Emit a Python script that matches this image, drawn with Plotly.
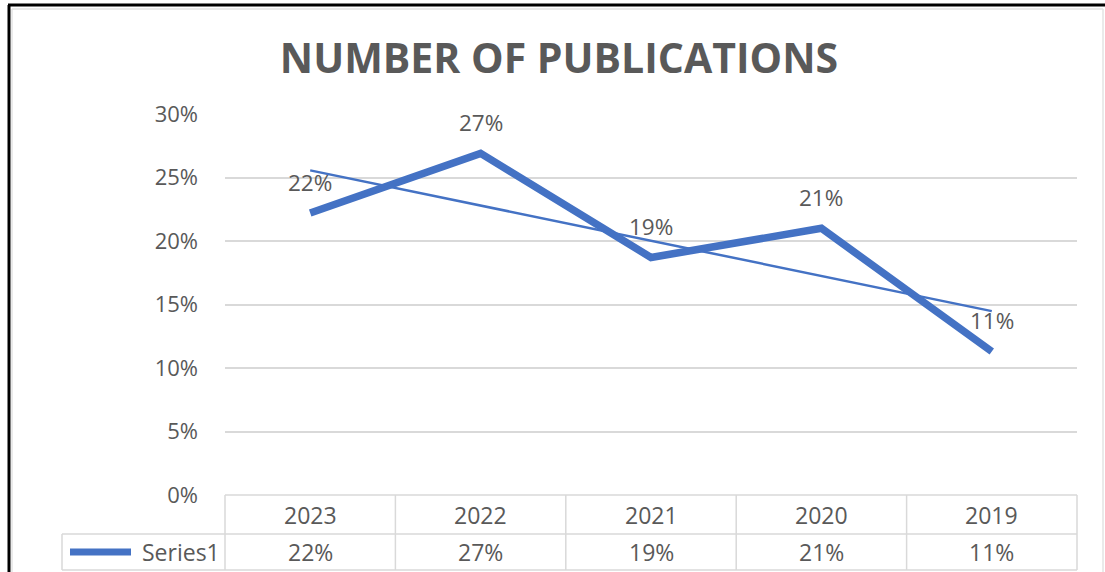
import numpy as np
import plotly.graph_objects as go

# ---- data ----
years = ["2023", "2022", "2021", "2020", "2019"]
values = [22.2, 26.9, 18.7, 21.0, 11.3]          # percent
value_labels = ["22%", "27%", "19%", "21%", "11%"]
series_name = "Series1"
y_ticks = [0, 5, 10, 15, 20, 25, 30]
y_tick_labels = ["0%", "5%", "10%", "15%", "20%", "25%", "30%"]

# ---- layout constants ----
W, H = 1105, 572
L, R, T, B = 225, 28, 114, 77
PW, PH = W - L - R, H - T - B
BLUE = "#4472C4"
GREY_TXT = "#595959"
GRID = "#d9d9d9"
FONT = "Open Sans"

def px2x(px):
    return (px - L) / PW

def py2y(py):
    return (H - B - py) / PH

idx = list(range(len(years)))
slope, intercept = np.polyfit(idx, values, 1)
trend = [slope * i + intercept for i in idx]

fig = go.Figure()
fig.add_trace(go.Scatter(
    x=idx, y=values, mode="lines",
    line=dict(color=BLUE, width=7.5, shape="linear"),
    name=series_name, showlegend=False, hoverinfo="skip"))
fig.add_trace(go.Scatter(
    x=[idx[0], idx[-1]], y=[trend[0], trend[-1]], mode="lines",
    line=dict(color=BLUE, width=2.5), showlegend=False, hoverinfo="skip"))

annotations = []
for i, v, lab in zip(idx, values, value_labels):
    annotations.append(dict(x=i, y=v, xref="x", yref="y", text=lab,
                            showarrow=False, yshift=31,
                            font=dict(family=FONT, size=22.5, color=GREY_TXT)))

# ---- data table ----
n = len(years)
row1_top, row1_bot, row2_bot = 495, 534, 570
key_left = 62
shapes = []
line_style = dict(color=GRID, width=1.5)
shapes.append(dict(type="line", xref="paper", yref="paper",
                   x0=0, x1=1, y0=py2y(row1_top), y1=py2y(row1_top), line=line_style))
for yy in (row1_bot, row2_bot):
    shapes.append(dict(type="line", xref="paper", yref="paper",
                       x0=px2x(key_left), x1=1, y0=py2y(yy), y1=py2y(yy), line=line_style))
for i in range(n + 1):
    xp = i / n
    shapes.append(dict(type="line", xref="paper", yref="paper",
                       x0=xp, x1=xp, y0=py2y(row1_top), y1=py2y(row2_bot), line=line_style))
shapes.append(dict(type="line", xref="paper", yref="paper",
                   x0=px2x(key_left), x1=px2x(key_left),
                   y0=py2y(row1_bot), y1=py2y(row2_bot), line=line_style))
key_y = py2y((row1_bot + row2_bot) / 2)
shapes.append(dict(type="line", xref="paper", yref="paper",
                   x0=px2x(70), x1=px2x(131), y0=key_y, y1=key_y,
                   line=dict(color=BLUE, width=7)))
annotations.append(dict(x=px2x(222), y=key_y, xref="paper", yref="paper",
                        xanchor="right", yanchor="middle", text=series_name,
                        showarrow=False, font=dict(family=FONT, size=23, color=GREY_TXT)))
for i, yr, lab in zip(idx, years, value_labels):
    annotations.append(dict(x=i, y=py2y((row1_top + row1_bot) / 2), xref="x", yref="paper",
                            yanchor="middle", text=yr, showarrow=False,
                            font=dict(family=FONT, size=23, color=GREY_TXT)))
    annotations.append(dict(x=i, y=key_y, xref="x", yref="paper",
                            yanchor="middle", text=lab, showarrow=False,
                            font=dict(family=FONT, size=23, color=GREY_TXT)))

# ---- frame ----
frame_grey = dict(color="#e3e3e3", width=1.5)
shapes.append(dict(type="line", xref="paper", yref="paper",
                   x0=px2x(12), x1=px2x(1103), y0=py2y(9), y1=py2y(9), line=frame_grey))
shapes.append(dict(type="line", xref="paper", yref="paper",
                   x0=px2x(12), x1=px2x(12), y0=py2y(9), y1=py2y(H), line=frame_grey))
shapes.append(dict(type="line", xref="paper", yref="paper",
                   x0=px2x(1103), x1=px2x(1103), y0=py2y(9), y1=py2y(H), line=frame_grey))
shapes.append(dict(type="line", xref="paper", yref="paper",
                   x0=px2x(8), x1=px2x(W), y0=py2y(5), y1=py2y(5),
                   line=dict(color="black", width=3)))
shapes.append(dict(type="line", xref="paper", yref="paper",
                   x0=px2x(9), x1=px2x(9), y0=py2y(5), y1=py2y(H),
                   line=dict(color="black", width=3)))

fig.update_layout(
    width=W, height=H,
    margin=dict(l=L, r=R, t=T, b=B),
    paper_bgcolor="white", plot_bgcolor="white",
    title=dict(text="<b>NUMBER OF PUBLICATIONS</b>", x=559 / W, xref="container",
               xanchor="center", y=1 - 59 / H, yanchor="middle", yref="container",
               font=dict(family=FONT, size=41, color=GREY_TXT)),
    xaxis=dict(range=[-0.5, n - 0.5], showticklabels=False, showgrid=False,
               zeroline=False, showline=False, ticks=""),
    yaxis=dict(range=[0, 30], tickvals=y_ticks, ticktext=y_tick_labels,
               showgrid=True, gridcolor=GRID, gridwidth=1.5, zeroline=False,
               showline=False, ticks="", ticklabelstandoff=26,
               tickfont=dict(family=FONT, size=22, color=GREY_TXT)),
    shapes=shapes, annotations=annotations,
)
fig.write_html("out.html", config={"displayModeBar": False},
               post_script="document.body.style.margin='0px';")
